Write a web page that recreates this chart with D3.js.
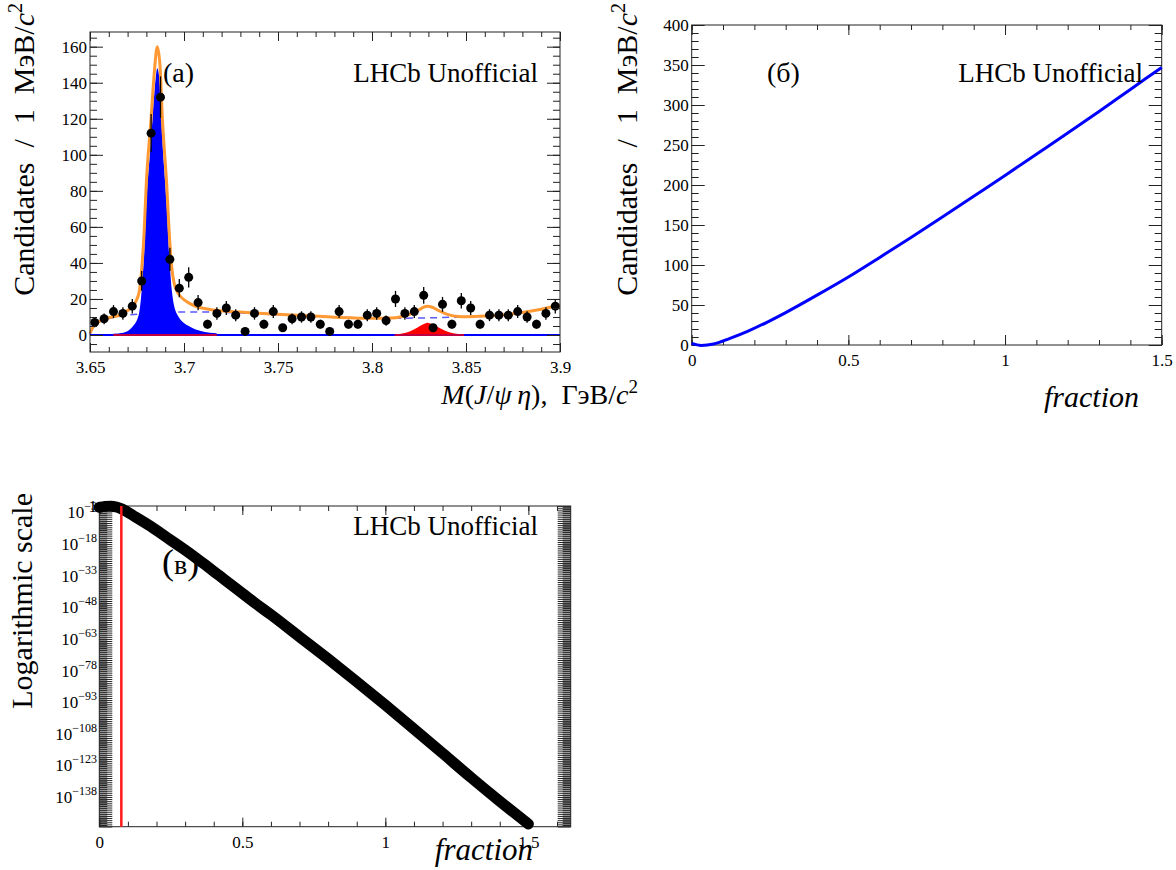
<!DOCTYPE html>
<html>
<head>
<meta charset="utf-8">
<script src="https://d3js.org/d3.v7.min.js"></script>
<style>
body { margin: 0; background: #fff; }
text { font-family: "Liberation Serif", "DejaVu Serif", "Times New Roman", serif; fill: #000; }
</style>
</head>
<body>
<div id="my_dataviz"></div>
<script>
// ---- (a) M(J/psi eta) spectrum, 50 bins of 5 MeV ----
var massRange = [3.65, 3.90];
var nBins = 50;
var counts = [7, 9, 13, 12, 16, 30, 112, 132, 42, 26,
              32, 18, 6, 12, 15, 11, 2, 12, 6, 13,
              4, 9, 10, 10, 6, 2, 13, 6, 6, 11,
              12, 8, 20, 12, 13, 22, 4, 17, 6, 19,
              15, 6, 11, 11, 11, 13, 10, 6, 12, 16];

// total fit (orange)
var totalX = [3.650, 3.652, 3.655, 3.660, 3.665, 3.670, 3.6726, 3.6761, 3.6775, 3.6787,
              3.6799, 3.6825, 3.6843, 3.6858, 3.6872, 3.6885, 3.6908, 3.6922, 3.6935, 3.6961,
              3.7032, 3.7138, 3.725, 3.74, 3.76, 3.78, 3.80, 3.81, 3.816, 3.82,
              3.824, 3.827, 3.8295, 3.832, 3.835, 3.838, 3.842, 3.846, 3.85, 3.86,
              3.87, 3.88, 3.89, 3.90];
var totalY = [1, 5, 7.5, 9.6, 10.8, 13.6, 15.8, 23.5, 36.6, 55.2,
              83.1, 120.2, 147, 160, 150, 120.3, 83.4, 55.7, 37.4, 24.5,
              17.4, 14.1, 13, 12.1, 10.9, 9.9, 9.3, 9.4, 10.3, 11.5,
              13.3, 15.2, 16, 15.4, 13.8, 12.3, 10.9, 10.3, 10.2, 10.5,
              11.2, 12.5, 14.3, 16.5];

// background (dashed blue)
var bkgX = [3.650, 3.652, 3.655, 3.660, 3.665, 3.670, 3.680, 3.690, 3.700, 3.715, 3.730,
            3.750, 3.770, 3.790, 3.810, 3.830, 3.850, 3.860, 3.870, 3.880, 3.890, 3.900];
var bkgY = [0.5, 5, 7.5, 9.2, 10.2, 11, 11.9, 12.5, 12.8, 12.7, 12.2,
            11.2, 10.3, 9.6, 9.3, 9.5, 10.1, 10.5, 11.2, 12.5, 14.3, 16.5];

// psi(2S) peak (blue fill)
var sigX = [3.6624, 3.6677, 3.6726, 3.6761, 3.6775, 3.6787, 3.6799, 3.6825, 3.6843, 3.6858,
            3.6872, 3.6885, 3.6908, 3.6922, 3.6935, 3.6961, 3.7032, 3.7138, 3.7174];
var sigY = [0.7, 1.3, 4.6, 12, 25, 43.5, 71.3, 108.3, 135, 148,
            138, 108.3, 71.3, 43.5, 25, 12, 4.6, 1.3, 1.0];

// second peak (red fill)
var sig2X = [3.812, 3.816, 3.820, 3.824, 3.827, 3.8295, 3.832, 3.835, 3.838, 3.842, 3.846, 3.849];
var sig2Y = [0.2, 0.8, 2.0, 4.0, 5.8, 6.8, 6.0, 4.4, 2.8, 1.3, 0.5, 0.2];

var massTicks = [3.65, 3.7, 3.75, 3.8, 3.85, 3.9];
var massTickLabels = ["3.65", "3.7", "3.75", "3.8", "3.85", "3.9"];
var countTicks = [0, 20, 40, 60, 80, 100, 120, 140, 160];

// ---- (б) ----
var fracB = [0, 0.03, 0.07, 0.12, 0.18, 0.24, 0.30, 0.40, 0.50, 0.60,
             0.70, 0.80, 0.90, 1.00, 1.10, 1.20, 1.30, 1.40, 1.50];
var candB = [2, -0.5, 1.2, 8, 17.4, 28.4, 40.5, 62.3, 85, 109.5,
             134.5, 160, 186, 212, 238.5, 265, 292, 319.5, 347];
var candTicks = [0, 50, 100, 150, 200, 250, 300, 350, 400];

// ---- (в) log10 of curve ----
var fracC = [0, 0.02, 0.04, 0.06, 0.08, 0.12, 0.18, 0.24, 0.30, 0.36, 0.42, 0.48,
             0.54, 0.60, 0.70, 0.80, 0.90, 1.00, 1.10, 1.20, 1.30, 1.40, 1.50];
var logC = [-0.6, -0.1, 0, -0.4, -1.4, -4.6, -9.6, -15.2, -20.8, -26.8, -33.0, -39.2,
            -45.5, -51.5, -62.0, -72.5, -83.3, -94.4, -105.7, -117.2, -128.8, -140.0, -150.8];
var fracCut = 0.077;
var logLabelExp = [-3, -18, -33, -48, -63, -78, -93, -108, -123, -138];

var fracTicks = [0, 0.5, 1, 1.5];
var fracTickLabels = ["0", "0.5", "1", "1.5"];

var svg = d3.select("#my_dataviz")
  .append("svg")
    .attr("width", 1176)
    .attr("height", 870)
    .style("background", "#fff");

var noLabel = function() { return ""; };

function ticks(g, axis, tx, ty, vals, len, fmt, pad) {
  var a = g.append("g")
    .attr("transform", "translate(" + tx + "," + ty + ")")
    .call(axis.tickValues(vals).tickSize(-len).tickPadding(pad).tickFormat(fmt));
  a.select(".domain").remove();
  a.attr("font-family", null).attr("font-size", 17).attr("color", "#222");
  return a;
}

function frame(g, x, y, o) {
  var xr = x.range(), yr = y.range();
  ticks(g, d3.axisBottom(x), 0, yr[0], o.xMinor, o.xMin, noLabel, 9);
  ticks(g, d3.axisTop(x), 0, yr[1], o.xMinor, o.xMin, noLabel, 3);
  ticks(g, d3.axisBottom(x), 0, yr[0], o.xMajor, o.xMaj, o.xFmt, 9);
  ticks(g, d3.axisTop(x), 0, yr[1], o.xMajor, o.xMaj, noLabel, 3);
  ticks(g, d3.axisLeft(y), xr[0], 0, o.yMinor, o.yMin, noLabel, 3);
  ticks(g, d3.axisRight(y), xr[1], 0, o.yMinor, o.yMin, noLabel, 3);
  ticks(g, d3.axisLeft(y), xr[0], 0, o.yMajor, o.yMaj, o.yFmt, 3);
  ticks(g, d3.axisRight(y), xr[1], 0, o.yMajor, o.yMaj, noLabel, 3);
  g.append("rect")
    .attr("x", xr[0]).attr("y", yr[1])
    .attr("width", xr[1] - xr[0]).attr("height", yr[0] - yr[1])
    .attr("fill", "none").attr("stroke", "#222").attr("stroke-width", 1);
}

function yTitle(x, y) {
  var t = svg.append("text")
    .attr("transform", "translate(" + x + "," + y + ") rotate(-90)")
    .attr("text-anchor", "end").attr("font-size", 30);
  t.append("tspan").text("Candidates\u2002/\u20021\u2002МэВ/");
  t.append("tspan").attr("font-style", "italic").text("c");
  t.append("tspan").attr("font-size", 20).attr("dy", -12).text("2");
}

function label(x, y, txt, anchor, size) {
  return svg.append("text").attr("x", x).attr("y", y)
    .attr("text-anchor", anchor).attr("font-size", size).text(txt);
}

//////////////////////////// (a) ////////////////////////////
var xA = d3.scaleLinear().domain(massRange).range([90, 560]);
var yA = d3.scaleLinear().domain([-9.43, 168.15]).range([352, 32]);
var gA = svg.append("g");

var lineA = d3.line().x(d => xA(d[0])).y(d => yA(d[1])).curve(d3.curveMonotoneX);
var areaA = d3.area().x(d => xA(d[0])).y0(yA(0)).y1(d => yA(d[1])).curve(d3.curveMonotoneX);

gA.append("path").datum(d3.zip(bkgX, bkgY))
  .attr("d", lineA).attr("fill", "none")
  .attr("stroke", "#5a5aff").attr("stroke-width", 1.5).attr("stroke-dasharray", "7,5");

gA.append("path").datum(d3.zip(sigX, sigY)).attr("d", areaA).attr("fill", "#0000ff");
gA.append("path").datum(d3.zip(sig2X, sig2Y)).attr("d", areaA).attr("fill", "#ff0000");

// zero lines
gA.append("line")
  .attr("x1", xA(massRange[0])).attr("x2", xA(massRange[1]))
  .attr("y1", yA(0)).attr("y2", yA(0))
  .attr("stroke", "#0000ff").attr("stroke-width", 2);
[d3.extent(sigX), d3.extent(sig2X)].forEach(function(r) {
  gA.append("line")
    .attr("x1", xA(r[0])).attr("x2", xA(r[1]))
    .attr("y1", yA(0)).attr("y2", yA(0))
    .attr("stroke", "#ff0000").attr("stroke-width", 1.5);
});

gA.append("path").datum(d3.zip(totalX, totalY))
  .attr("d", lineA).attr("fill", "none")
  .attr("stroke", "#ff9933").attr("stroke-width", 3);

var binW = (massRange[1] - massRange[0]) / nBins;
var pts = counts.map(function(c, i) { return {x: massRange[0] + (i + 0.5) * binW, n: c}; });

gA.selectAll(".err").data(pts).enter().append("line")
  .attr("x1", d => xA(d.x)).attr("x2", d => xA(d.x))
  .attr("y1", d => yA(d.n + Math.sqrt(d.n))).attr("y2", d => yA(Math.max(d.n - Math.sqrt(d.n), -9)))
  .attr("stroke", "#000").attr("stroke-width", 1.3);
gA.selectAll(".pt").data(pts).enter().append("circle")
  .attr("cx", d => xA(d.x)).attr("cy", d => yA(d.n)).attr("r", 4.5)
  .attr("fill", "#000");

frame(gA, xA, yA, {
  xMajor: massTicks, xMinor: d3.range(26).map(i => massRange[0] + i * 0.01),
  xMaj: 9, xMin: 5, xFmt: (d, i) => massTickLabels[i],
  yMajor: countTicks, yMinor: d3.range(-5, 170, 5),
  yMaj: 13, yMin: 7, yFmt: d => d
});

yTitle(34, 3);
var xt = svg.append("text").attr("x", 638).attr("y", 404)
  .attr("text-anchor", "end").attr("font-size", 28);
xt.append("tspan").attr("font-style", "italic").text("M");
xt.append("tspan").text("(");
xt.append("tspan").attr("font-style", "italic").text("J");
xt.append("tspan").text("/");
xt.append("tspan").attr("font-style", "italic").text("ψ\u2009η");
xt.append("tspan").text("),\u2002ГэВ/");
xt.append("tspan").attr("font-style", "italic").text("c");
xt.append("tspan").attr("font-size", 19).attr("dy", -11).text("2");

label(163, 82, "(a)", "start", 28);
label(538, 82, "LHCb Unofficial", "end", 27);

//////////////////////////// (б) ////////////////////////////
var xB = d3.scaleLinear().domain([0, 1.5]).range([691.7, 1161.7]);
var yB = d3.scaleLinear().domain([0, 400]).range([345, 25]);
var gB = svg.append("g");

frame(gB, xB, yB, {
  xMajor: fracTicks, xMinor: d3.range(16).map(i => i / 10),
  xMaj: 10, xMin: 5, xFmt: (d, i) => fracTickLabels[i],
  yMajor: candTicks, yMinor: d3.range(0, 401, 10),
  yMaj: 13, yMin: 7, yFmt: d => d
});

label(767, 82, "(б)", "start", 28);
label(1143, 82, "LHCb Unofficial", "end", 27);

gB.append("path").datum(d3.zip(fracB, candB))
  .attr("d", d3.line().x(d => xB(d[0])).y(d => yB(d[1])).curve(d3.curveMonotoneX))
  .attr("fill", "none").attr("stroke", "#0000ff").attr("stroke-width", 3);

yTitle(637, 3);
svg.append("text").attr("x", 1139).attr("y", 407)
  .attr("text-anchor", "end").attr("font-size", 30).attr("font-style", "italic")
  .text("fraction");

//////////////////////////// (в) ////////////////////////////
var xC = d3.scaleLinear().domain([0, 1.648]).range([99.3, 570.7]);
var yC = d3.scaleLog().domain([Math.pow(10, -152.1), Math.pow(10, 0.08)]).range([826.7, 506]);
var gC = svg.append("g");

// decades as long ticks, half-decades as short ones
frame(gC, xC, yC, {
  xMajor: fracTicks, xMinor: d3.range(17).map(i => i / 10),
  xMaj: 9, xMin: 5, xFmt: (d, i) => fracTickLabels[i],
  yMajor: d3.range(-152, 1).map(e => Math.pow(10, e)),
  yMinor: d3.range(-152, 0).map(e => 5 * Math.pow(10, e)),
  yMaj: 13, yMin: 8, yFmt: noLabel
});

gC.selectAll(".loglab").data(logLabelExp).enter().append("text")
  .attr("x", 97).attr("y", d => yC(Math.pow(10, d)) + 6)
  .attr("text-anchor", "end").attr("font-size", 17)
  .each(function(d) {
    var t = d3.select(this);
    t.append("tspan").text("10");
    t.append("tspan").attr("font-size", 12).attr("dy", -8).text("\u2212" + (-d));
  });
label(97, yC(1) + 6, "1", "end", 17);

gC.append("path").datum(d3.zip(fracC, logC))
  .attr("d", d3.line().x(d => xC(d[0])).y(d => yC(Math.pow(10, d[1]))).curve(d3.curveMonotoneX))
  .attr("fill", "none").attr("stroke", "#000").attr("stroke-width", 11)
  .attr("stroke-linecap", "round").attr("stroke-linejoin", "round");

gC.append("line")
  .attr("x1", xC(fracCut)).attr("x2", xC(fracCut))
  .attr("y1", yC.range()[0]).attr("y2", yC.range()[1])
  .attr("stroke", "#ff1a1a").attr("stroke-width", 2.5);

svg.append("text")
  .attr("transform", "translate(32,493) rotate(-90)")
  .attr("text-anchor", "end").attr("font-size", 30)
  .text("Logarithmic scale");

var tc = label(162, 574, "", "start", 36);
tc.append("tspan").text("(");
tc.append("tspan").attr("font-size", 28).text("в");
tc.append("tspan").text(")");
label(538, 535, "LHCb Unofficial", "end", 27);

svg.append("text").attr("x", 533).attr("y", 860)
  .attr("text-anchor", "end").attr("font-size", 31).attr("font-style", "italic")
  .text("fraction");
</script>
</body>
</html>
